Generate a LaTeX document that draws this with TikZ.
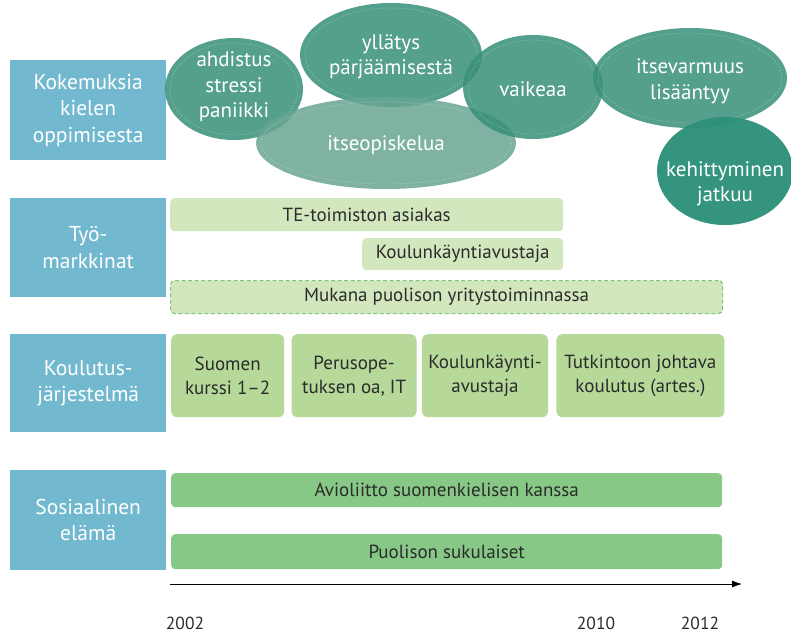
\documentclass[tikz,border=0pt]{standalone}
\usepackage{fontspec}
\setmainfont{PT Sans}
\usepackage{tikz}
\usetikzlibrary{arrows,positioning}
\usetikzlibrary{shapes.geometric}
\usetikzlibrary{arrows.meta}
\usetikzlibrary{calc}
\definecolor{catblue}{HTML}{72B8CE}
\definecolor{workgreen}{HTML}{D3E7BE}
\definecolor{workdash}{HTML}{84C47E}
\definecolor{schoolgreen}{HTML}{B6D99A}
\definecolor{socgreen}{HTML}{87C887}
\definecolor{bubblegreen}{HTML}{378F78}
\definecolor{bubblelight}{HTML}{69A593}
\definecolor{bubbledark}{HTML}{2E917A}
\definecolor{txtgray}{HTML}{2B2B2B}

\begin{document}
\begin{tikzpicture}[x=1pt,y=-1pt,
      catbox/.style={fill=catblue,text=white,align=center,inner sep=0pt,minimum width=156pt,
        minimum height=100pt,anchor=north west,font=\fontsize{21.5}{26.5}\selectfont},
      bubble/.style={fill=#1,fill opacity=.85,
        path picture={
          \draw[white,draw opacity=.35,line width=.4pt,dash pattern=on 2pt off 1.5pt]
            let \p1=($(path picture bounding box.north east)-(path picture bounding box.center)$) in
            (path picture bounding box.center) ellipse ({\x1-5pt} and {\y1-5pt});
        }},
      bubbletext/.style={text=white,align=center,inner sep=0pt,font=\fontsize{21}{25.5}\selectfont},
      workbar/.style={fill=workgreen,rounded corners=4pt,minimum height=33pt,anchor=north west,
        inner sep=0pt,text=txtgray,font=\fontsize{19}{23}\selectfont},
      schoolbox/.style={fill=schoolgreen,rounded corners=6pt,minimum height=83pt,anchor=north west,
        inner sep=0pt,align=center,text=txtgray,font=\fontsize{19}{24}\selectfont},
      socbar/.style={fill=socgreen,rounded corners=4pt,minimum width=551pt,minimum height=34pt,
        anchor=north west,inner sep=0pt,text=txtgray,font=\fontsize{19}{23}\selectfont},
      yearlbl/.style={text=txtgray,inner sep=0pt,font=\fontsize{17.5}{21}\selectfont}
    ]
    \useasboundingbox (0,0) rectangle (791,635);

    % categories on the left
    \node[catbox] (kokemus) at (10,60) {Kokemuksia\\kielen\\oppimisesta};
    \node[catbox,minimum height=99pt] (tyo) at (10,198) {Työ-\\markkinat};
    \node[catbox,minimum height=98pt] (koulutus) at (10,334) {Koulutus-\\järjestelmä};
    \node[catbox] (sosiaali) at (10,470) {Sosiaalinen\\elämä};

    % experiences
    \path[bubble=bubblegreen] (234,89) ellipse (69 and 51);
    \path[bubble=bubblegreen] (391,55) ellipse (91 and 52);
    \path[bubble=bubblelight] (386,143) ellipse (130 and 46);
    \path[bubble=bubblegreen] (533,87) ellipse (70 and 52);
    \path[bubble=bubblegreen] (690,78) ellipse (97 and 50);
    \fill[bubbledark,fill opacity=.97] (725,171) ellipse (68 and 54);

    \node[bubbletext] (ahdistus) at (234,87) {ahdistus\\stressi\\paniikki};
    \node[bubbletext] (yllatys) at (391,57) {yllätys\\pärjäämisestä};
    \node[bubbletext] (itseopiskelu) at (386,145) {itseopiskelua};
    \node[bubbletext] (vaikeaa) at (533,89) {vaikeaa};
    \node[bubbletext] (itsevarmuus) at (690,81) {itsevarmuus\\lisääntyy};
    \node[bubbletext] (kehittyminen) at (725,184) {kehittyminen\\jatkuu};

    % labour market
    \node[workbar,minimum width=393pt] (teasiakas) at (170,198) {TE-toimiston asiakas};
    \node[workbar,minimum width=201pt,minimum height=32pt] (avustajatyo) at (362,238) {Koulunkäyntiavustaja};
    \node[workbar,minimum width=552pt,draw=workdash,line width=1.1pt,dash pattern=on 4pt off 2.5pt]
      (yritys) at (170,280) {Mukana puolison yritystoiminnassa};

    % education
    \node[schoolbox,minimum width=113pt] (suomi) at (171,334) {Suomen\\kurssi 1–2};
    \node[schoolbox,minimum width=125pt,right=7pt of suomi.north east,anchor=north west] (perus)
      {Perusope-\\tuksen oa, IT};
    \node[schoolbox,minimum width=126pt,right=5pt of perus.north east,anchor=north west] (avustaja)
      {Koulunkäynti-\\avustaja};
    \node[schoolbox,minimum width=168pt,right=8pt of avustaja.north east,anchor=north west] (tutkinto)
      {Tutkintoon johtava\\koulutus (artes.)};

    % social life
    \node[socbar] (avioliitto) at (171,473) {Avioliitto suomenkielisen kanssa};
    \node[socbar,minimum height=35pt] (sukulaiset) at (171,534) {Puolison sukulaiset};

    % time line
    \coordinate (tstart) at (170,584);
    \coordinate (tend) at (742,584);
    \draw[black,line width=.8pt,-{Latex[length=10pt,width=7pt]}] (tstart) -- (tend);
    \node[yearlbl] (y2002) at (185,623) {2002};
    \node[yearlbl] (y2010) at (596,623) {2010};
    \node[yearlbl] (y2012) at (700,623) {2012};
  \end{tikzpicture}
\end{document}
